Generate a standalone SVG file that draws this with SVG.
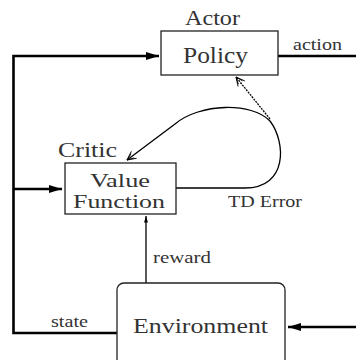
<svg xmlns="http://www.w3.org/2000/svg" width="356" height="360" viewBox="0 0 356 360">
<defs>
<style>
.box{fill:#fff;stroke:#222;stroke-width:1.3}
.t{font-family:"Liberation Serif","Times New Roman",serif;fill:#333}
.thick{fill:none;stroke:#000;stroke-width:2.6}
.thin{fill:none;stroke:#000;stroke-width:1.3}
</style>
<marker id="fa" viewBox="0 0 10 10" refX="10" refY="5" markerWidth="5" markerHeight="5" markerUnits="strokeWidth" orient="auto">
<path d="M0,2 L10,5 L0,8 z" fill="#000"/>
</marker>
<marker id="oa" viewBox="0 0 12 12" refX="11" refY="6" markerWidth="8" markerHeight="8" markerUnits="strokeWidth" orient="auto">
<path d="M1,1 L11,6 L1,11 M3,3 L11,6 L3,9" fill="none" stroke="#000" stroke-width="1"/>
</marker>
</defs>
<g id="connectors">
<path class="thick" d="M278,56 H356"/>
<path class="thick" d="M117,333 H13.5 V56 H159" marker-end="url(#fa)"/>
<path class="thick" d="M13.5,189 H62" marker-end="url(#fa)"/>
<path class="thin" d="M146,283 V216" marker-end="url(#fa)"/>
<path class="thick" d="M356,327 H288" marker-end="url(#fa)"/>
<path class="thin" d="M176,188 H245 C288,188 286,142 270,121 C252,102 200,103 175,124 L127,160" marker-end="url(#oa)"/>
<path class="thin" d="M270,119 L236,77" stroke-dasharray="2,1" marker-end="url(#oa)"/>
</g>
<g id="actor">
<rect class="box" x="161" y="31" width="117" height="44"/>
<text class="t" x="185" y="25" font-size="21" textLength="55" lengthAdjust="spacingAndGlyphs">Actor</text>
<text class="t" x="183" y="63" font-size="23" textLength="65" lengthAdjust="spacingAndGlyphs">Policy</text>
</g>
<g id="critic">
<rect class="box" x="65" y="163" width="111" height="51"/>
<text class="t" x="58" y="157" font-size="20" textLength="59" lengthAdjust="spacingAndGlyphs">Critic</text>
<text class="t" x="90" y="187" font-size="18" textLength="60" lengthAdjust="spacingAndGlyphs">Value</text>
<text class="t" x="73" y="208" font-size="18" textLength="92" lengthAdjust="spacingAndGlyphs">Function</text>
</g>
<g id="environment">
<rect class="box" x="117" y="283" width="168" height="90" rx="7"/>
<text class="t" x="133" y="333" font-size="22" textLength="135" lengthAdjust="spacingAndGlyphs">Environment</text>
</g>
<g id="labels">
<text class="t" x="293" y="50" font-size="16" textLength="49" lengthAdjust="spacingAndGlyphs">action</text>
<text class="t" x="228" y="207" font-size="17" textLength="74" lengthAdjust="spacingAndGlyphs">TD Error</text>
<text class="t" x="153" y="263" font-size="17" textLength="58" lengthAdjust="spacingAndGlyphs">reward</text>
<text class="t" x="51" y="327" font-size="16" textLength="37" lengthAdjust="spacingAndGlyphs">state</text>
</g>
</svg>
